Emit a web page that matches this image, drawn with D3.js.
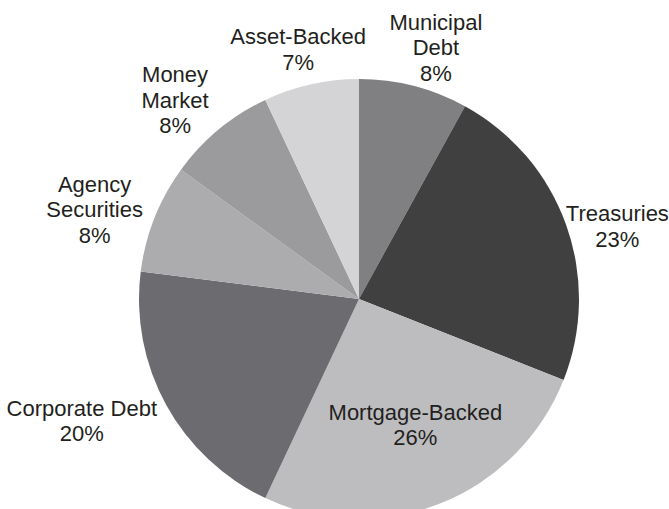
<!DOCTYPE html>
<html>
<head>
<meta charset="utf-8">
<script src="https://cdn.jsdelivr.net/npm/d3@7"></script>
<style>
  html, body { margin: 0; padding: 0; background: #fff; }
  svg { display: block; }
  text { font-family: "Liberation Sans", Arial, Helvetica, sans-serif; fill: #231f20; }
</style>
</head>
<body>
<svg id="chart" width="669" height="509"></svg>
<script>
// data, clockwise from 12 o'clock
const categories = ["Municipal\nDebt", "Treasuries", "Mortgage-Backed", "Corporate Debt", "Agency\nSecurities", "Money\nMarket", "Asset-Backed"]
const shares = [8, 23, 26, 20, 8, 8, 7]
const colors = ["#808083", "#404040", "#bdbdc0", "#6c6c70", "#acacaf", "#9b9b9e", "#d4d4d6"]

// label nudges (layout only)
const inside = [false, false, true, false, false, false, false]
const nudge = [[11, 5], [9, 17], [3, -9], [-45, -6], [-18, 8], [-15, 5], [-3, 9]]

const width = 669, height = 509
const cx = 359, cy = 299, r = 220

const svg = d3.select('#chart')
const g = svg.append('g').attr('transform', `translate(${cx},${cy})`)

const pie = d3.pie().sort(null).value(d => d)
const arcs = pie(shares)

const arc = d3.arc().innerRadius(0).outerRadius(r)
const outerLabel = d3.arc().innerRadius(265).outerRadius(265)
const innerLabel = d3.arc().innerRadius(145).outerRadius(145)

g.selectAll('path.slice')
  .data(arcs)
  .enter().append('path')
  .attr('class', 'slice')
  .attr('d', arc)
  .attr('fill', (d, i) => colors[i])

const fontSize = 22, lineH = 25.5

arcs.forEach((d, i) => {
  let c = (inside[i] ? innerLabel : outerLabel).centroid(d)
  let x = c[0] + nudge[i][0], y = c[1] + nudge[i][1]
  let lines = categories[i].split('\n').concat([shares[i] + '%'])
  let t = g.append('text')
    .attr('text-anchor', 'middle')
    .attr('font-size', fontSize)
  let y0 = y - (lines.length - 1) * lineH / 2
  lines.forEach((l, k) => {
    t.append('tspan')
      .attr('x', x)
      .attr('y', y0 + k * lineH)
      .attr('dy', '0.35em')
      .text(l)
  })
})
</script>
</body>
</html>
